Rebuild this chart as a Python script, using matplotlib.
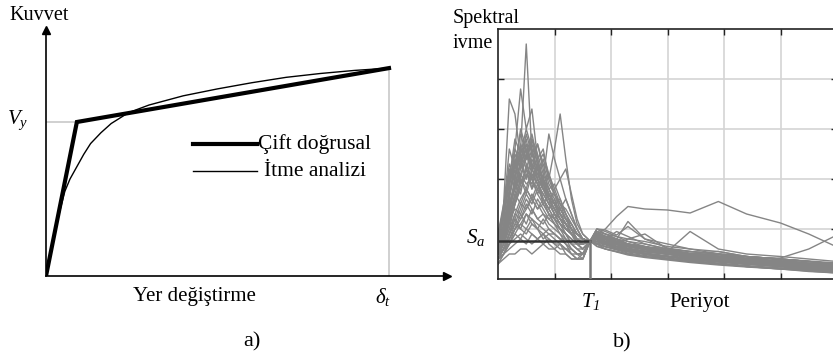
import numpy as np
import matplotlib
matplotlib.use("Agg")
import matplotlib.pyplot as plt

plt.rcParams["font.family"] = ["Liberation Serif", "DejaVu Serif"]
plt.rcParams["mathtext.fontset"] = "custom"
plt.rcParams["mathtext.rm"] = "Liberation Serif:italic"
plt.rcParams["mathtext.it"] = "Liberation Serif:italic"

# --- a) pushover curve vs bilinear idealisation (delta_t = 1, V_y = 1)
bilinear_disp = [0.0, 0.09, 1.0]
bilinear_force = [0.0, 1.0, 1.35]
push_disp = [0.0, 0.02, 0.04, 0.055, 0.07, 0.09, 0.11, 0.13, 0.16, 0.19,
             0.24, 0.30, 0.40, 0.50, 0.60, 0.70, 0.80, 0.90, 1.0]
push_force = [0.0, 0.22, 0.42, 0.55, 0.63, 0.71, 0.79, 0.86, 0.93, 0.99,
              1.06, 1.11, 1.17, 1.215, 1.255, 1.29, 1.315, 1.335, 1.35]
vy = 1.0
delta_t = 1.0

# --- b) scaled acceleration spectra
periods = [0.0, 0.1, 0.2, 0.3, 0.4, 0.5, 0.6, 0.7, 0.8, 0.9, 1.0, 1.1, 1.2,
           1.3, 1.4, 1.5, 1.63, 1.75, 1.9, 2.1, 2.3, 2.6, 3.0, 3.4, 3.9,
           4.4, 5.0, 5.5, 6.0]
T1 = 1.63
Sa = 0.76
spectra = [
    [0.6, 0.9, 1.4, 2.0, 2.6, 4.7, 2.5, 2.2, 1.8, 1.6, 1.4, 1.2, 1.1, 0.9, 0.8, 0.8, .76,
     0.9, 0.8, 0.7, 0.65, 0.6, 0.5, 0.45, 0.4, 0.35, 0.3, 0.25, 0.2],
    [0.7, 1.5, 3.6, 3.3, 2.4, 2.8, 2.2, 1.9, 1.5, 1.3, 1.2, 1.0, 0.9, 0.8, 0.7, 0.7, .76,
     0.95, 0.85, 0.8, 0.7, 0.65, 0.55, 0.5, 0.45, 0.4, 0.35, 0.3, 0.28],
    [0.5, 1.0, 1.8, 2.6, 3.8, 3.0, 3.4, 2.4, 2.0, 1.6, 1.4, 1.2, 1.0, 0.9, 0.8, 0.7, .76,
     0.85, 0.75, 0.7, 0.6, 0.55, 0.5, 0.42, 0.38, 0.33, 0.3, 0.25, 0.22],
    [0.6, 0.8, 1.2, 1.6, 2.0, 1.8, 2.2, 2.0, 2.4, 2.0, 2.6, 3.3, 2.4, 1.6, 1.1, 0.9, .76,
     1.0, 0.9, 0.8, 1.15, 0.8, 0.7, 0.6, 0.5, 0.45, 0.4, 0.35, 0.3],
    [0.5, 0.7, 1.0, 1.5, 1.9, 2.2, 1.8, 2.3, 2.0, 2.9, 2.4, 2.0, 1.6, 1.3, 1.0, 0.8, .76,
     0.9, 0.75, 0.7, 0.65, 0.6, 0.55, 0.95, 0.6, 0.5, 0.45, 0.4, 0.35],
    [0.4, 0.6, 0.9, 1.3, 1.6, 1.8, 1.6, 1.9, 1.7, 1.5, 1.8, 2.0, 2.2, 1.7, 1.2, 0.9, .76,
     0.8, 0.7, 0.6, 0.55, 0.5, 0.45, 0.4, 0.35, 0.3, 0.28, 0.22, 0.2],
    [0.5, 0.6, 0.7, 0.9, 1.1, 1.3, 1.2, 1.1, 1.0, 0.9, 0.9, 0.8, 0.8, 0.7, 0.7, 0.7, .76,
     0.9, 1.0, 1.25, 1.45, 1.4, 1.38, 1.32, 1.55, 1.3, 1.12, 0.9, 0.64],
    [0.4, 0.6, 0.9, 1.2, 1.5, 1.4, 1.7, 1.5, 1.3, 1.2, 1.1, 1.0, 0.9, 0.8, 0.7, 0.6, .76,
     0.85, 0.75, 0.65, 0.6, 0.55, 0.5, 0.45, 0.42, 0.4, 0.42, 0.6, 0.88],
    [0.8, 1.2, 2.0, 2.8, 2.5, 3.0, 2.6, 2.2, 2.0, 1.7, 1.5, 1.3, 1.1, 1.0, 0.9, 0.8, .76,
     0.8, 0.7, 0.65, 0.6, 0.55, 0.5, 0.45, 0.4, 0.35, 0.3, 0.25, 0.22],
    [0.6, 1.0, 1.6, 2.2, 2.7, 2.4, 2.8, 2.5, 2.1, 1.8, 1.9, 1.6, 1.3, 1.1, 0.9, 0.8, .76,
     0.85, 0.8, 0.75, 0.7, 0.65, 0.6, 0.5, 0.45, 0.4, 0.35, 0.3, 0.25],
    [0.5, 0.8, 1.3, 1.9, 2.3, 2.6, 2.2, 2.4, 1.9, 1.6, 1.5, 1.4, 1.2, 1.0, 0.9, 0.8, .76,
     0.75, 0.7, 0.6, 0.55, 0.5, 0.45, 0.4, 0.35, 0.3, 0.25, 0.2, 0.18],
    [0.7, 1.1, 1.5, 1.8, 2.1, 1.9, 2.0, 1.7, 1.9, 1.6, 1.4, 1.2, 1.1, 0.9, 0.8, 0.7, .76,
     0.9, 0.85, 0.8, 0.75, 0.7, 0.6, 0.55, 0.5, 0.45, 0.4, 0.35, 0.3],
    [0.4, 0.6, 0.8, 1.1, 1.4, 1.7, 1.5, 1.8, 1.6, 1.4, 1.6, 1.3, 1.2, 1.1, 0.9, 0.8, .76,
     0.7, 0.65, 0.6, 0.55, 0.5, 0.4, 0.35, 0.3, 0.25, 0.2, 0.18, 0.15],
    [0.6, 0.9, 1.2, 1.4, 1.3, 1.6, 1.4, 1.2, 1.3, 1.1, 1.0, 0.9, 0.8, 0.7, 0.6, 0.6, .76,
     0.8, 0.75, 0.7, 0.65, 0.6, 0.55, 0.5, 0.45, 0.4, 0.35, 0.3, 0.28],
    [0.4, 0.5, 0.6, 0.7, 0.8, 0.7, 0.9, 0.8, 0.7, 0.8, 0.7, 0.6, 0.6, 0.5, 0.5, 0.5, .76,
     0.75, 0.7, 0.65, 0.6, 0.5, 0.45, 0.4, 0.35, 0.3, 0.25, 0.2, 0.15],
    [0.3, 0.4, 0.5, 0.5, 0.6, 0.6, 0.5, 0.6, 0.7, 0.6, 0.6, 0.7, 0.6, 0.5, 0.4, 0.4, .76,
     0.7, 0.6, 0.55, 0.5, 0.45, 0.4, 0.35, 0.3, 0.25, 0.2, 0.15, 0.12],
    [0.5, 0.9, 1.6, 2.4, 2.0, 2.5, 2.2, 2.7, 2.3, 1.9, 1.7, 1.5, 1.4, 1.2, 1.0, 0.8, .76,
     0.8, 0.75, 0.7, 0.8, 0.9, 0.6, 0.5, 0.45, 0.4, 0.35, 0.3, 0.25],
    [0.7, 1.3, 2.2, 1.8, 2.4, 2.0, 2.5, 2.2, 1.8, 1.6, 1.3, 1.2, 1.0, 0.9, 0.8, 0.7, .76,
     0.85, 0.8, 0.95, 0.85, 0.7, 0.6, 0.55, 0.5, 0.4, 0.35, 0.3, 0.25],
    [0.6, 0.8, 1.1, 1.5, 1.9, 2.2, 2.0, 1.7, 1.5, 1.7, 1.5, 1.2, 1.0, 0.9, 0.8, 0.7, .76,
     0.8, 0.7, 0.65, 0.6, 0.55, 0.5, 0.45, 0.5, 0.45, 0.4, 0.35, 0.3],
    [0.5, 0.7, 1.0, 1.3, 1.2, 1.5, 1.3, 1.6, 1.4, 1.2, 1.3, 1.1, 1.0, 0.9, 0.7, 0.6, .76,
     0.75, 0.7, 0.6, 0.55, 0.5, 0.45, 0.42, 0.38, 0.34, 0.3, 0.26, 0.22],
    [0.4, 0.6, 0.9, 1.2, 1.0, 1.3, 1.1, 1.0, 1.2, 1.0, 0.9, 0.8, 0.7, 0.6, 0.5, 0.5, .76,
     0.7, 0.65, 0.6, 0.55, 0.5, 0.45, 0.4, 0.35, 0.3, 0.25, 0.2, 0.18],
    [0.8, 1.4, 2.6, 2.2, 3.0, 2.6, 2.3, 2.0, 1.8, 1.5, 1.3, 1.1, 1.0, 0.9, 0.8, 0.7, .76,
     0.9, 0.8, 0.75, 0.7, 0.6, 0.55, 0.5, 0.45, 0.4, 0.35, 0.3, 0.26],
    [0.5, 0.7, 1.2, 1.7, 2.1, 2.4, 2.7, 2.3, 2.5, 2.1, 1.7, 1.4, 1.2, 1.0, 0.9, 0.8, .76,
     0.85, 0.75, 0.7, 0.65, 0.6, 0.5, 0.48, 0.42, 0.38, 0.32, 0.28, 0.24],
    [0.3, 0.5, 0.8, 1.0, 1.1, 1.0, 1.2, 1.0, 0.9, 1.0, 0.9, 0.8, 0.7, 0.6, 0.5, 0.4, .76,
     0.65, 0.6, 0.55, 0.5, 0.45, 0.4, 0.35, 0.3, 0.25, 0.22, 0.18, 0.14],
    [0.6, 0.8, 1.2, 1.6, 2.0, 1.7, 2.1, 1.9, 1.6, 1.4, 1.2, 1.4, 1.6, 1.3, 1.0, 0.8, .76,
     0.95, 0.9, 0.85, 0.8, 0.75, 0.65, 0.6, 0.55, 0.45, 0.4, 0.35, 0.3],
    [0.9, 1.5, 2.0, 2.3, 1.9, 2.2, 1.8, 2.0, 1.6, 1.4, 1.2, 1.1, 0.9, 0.8, 0.7, 0.7, .76,
     0.8, 0.72, 0.65, 0.6, 0.55, 0.5, 0.5, 0.55, 0.45, 0.4, 0.36, 0.32],
    [0.4, 0.5, 0.7, 0.9, 0.8, 1.0, 0.9, 0.8, 0.9, 0.8, 0.7, 0.7, 0.6, 0.6, 0.5, 0.5, .76,
     0.72, 0.68, 0.62, 0.58, 0.52, 0.46, 0.42, 0.38, 0.33, 0.28, 0.24, 0.2],
    [0.5, 0.6, 0.8, 1.0, 1.3, 1.1, 1.4, 1.2, 1.1, 1.3, 1.1, 1.0, 0.9, 0.7, 0.6, 0.5, .76,
     0.78, 0.72, 0.68, 0.62, 0.56, 0.5, 0.44, 0.4, 0.36, 0.32, 0.28, 0.24],
    [0.6, 1.0, 1.7, 2.3, 2.9, 2.5, 2.9, 2.4, 2.6, 2.0, 1.7, 1.5, 1.3, 1.1, 0.9, 0.8, .76,
     0.95, 0.9, 0.8, 0.7, 0.62, 0.55, 0.5, 0.44, 0.38, 0.33, 0.28, 0.24],
    [0.5, 0.8, 1.4, 2.0, 2.5, 2.2, 2.6, 2.0, 1.8, 1.6, 1.7, 1.4, 1.2, 1.0, 0.8, 0.7, .76,
     1.0, 0.95, 0.85, 0.75, 0.65, 0.55, 0.48, 0.42, 0.36, 0.3, 0.26, 0.22],
    [0.7, 1.2, 1.9, 2.5, 2.2, 2.7, 2.3, 2.1, 1.9, 2.1, 1.8, 1.5, 1.2, 1.0, 0.8, 0.7, .76,
     0.9, 0.85, 0.75, 0.68, 0.6, 0.52, 0.46, 0.4, 0.35, 0.3, 0.26, 0.22],
    [0.4, 0.7, 1.1, 1.5, 1.8, 2.1, 1.9, 2.2, 2.0, 1.8, 1.5, 1.6, 1.3, 1.0, 0.7, 0.6, .76,
     0.85, 0.8, 0.72, 0.66, 0.6, 0.54, 0.48, 0.42, 0.36, 0.3, 0.25, 0.2],
    [0.6, 0.9, 1.3, 1.7, 1.5, 1.8, 1.6, 1.4, 1.6, 1.3, 1.2, 1.0, 0.8, 0.6, 0.5, 0.5, .76,
     0.8, 0.72, 0.65, 0.58, 0.52, 0.46, 0.4, 0.35, 0.3, 0.26, 0.22, 0.18],
    [0.5, 0.6, 0.9, 1.1, 1.0, 0.9, 1.1, 1.0, 0.8, 0.9, 0.8, 0.7, 0.5, 0.4, 0.4, 0.5, .76,
     0.7, 0.64, 0.58, 0.52, 0.47, 0.42, 0.37, 0.32, 0.27, 0.22, 0.18, 0.14],
    [0.8, 1.3, 2.1, 2.6, 2.3, 2.9, 2.5, 2.7, 2.2, 1.8, 1.6, 1.3, 1.1, 0.9, 0.8, 0.7, .76,
     1.0, 0.98, 0.88, 1.05, 0.8, 0.62, 0.55, 0.5, 0.44, 0.38, 0.32, 0.28],
    [0.6, 1.1, 1.7, 2.1, 2.6, 2.3, 2.0, 2.3, 1.9, 1.6, 1.4, 1.2, 1.1, 0.9, 0.7, 0.6, .76,
     0.92, 0.86, 0.78, 0.7, 0.64, 0.56, 0.5, 0.45, 0.4, 0.34, 0.3, 0.26],
    [0.4, 0.5, 0.7, 1.0, 1.2, 1.4, 1.6, 1.4, 1.5, 1.3, 1.1, 0.9, 0.7, 0.5, 0.4, 0.4, .76,
     0.75, 0.7, 0.64, 0.57, 0.5, 0.44, 0.38, 0.34, 0.3, 0.25, 0.2, 0.16],
    [0.7, 1.0, 1.5, 1.9, 2.3, 2.0, 2.4, 2.1, 1.8, 1.7, 1.5, 1.3, 1.1, 0.9, 0.8, 0.7, .76,
     0.88, 0.82, 0.74, 0.68, 0.62, 0.56, 0.5, 0.46, 0.4, 0.36, 0.32, 0.28],
    [0.5, 0.9, 1.5, 1.9, 1.7, 2.3, 2.0, 1.8, 2.0, 1.7, 1.5, 1.3, 1.1, 1.0, 0.9, 0.8, .76,
     0.86, 0.8, 0.72, 0.66, 0.6, 0.52, 0.46, 0.4, 0.34, 0.28, 0.22, 0.18],
    [0.6, 0.9, 1.4, 1.8, 2.2, 2.5, 2.1, 1.9, 1.7, 1.5, 1.3, 1.1, 0.9, 0.7, 0.6, 0.5, .76,
     0.82, 0.78, 0.7, 0.64, 0.58, 0.5, 0.44, 0.38, 0.33, 0.28, 0.24, 0.2],
    [0.3, 0.5, 0.7, 0.8, 0.9, 0.8, 0.7, 0.8, 0.9, 0.7, 0.6, 0.5, 0.5, 0.4, 0.4, 0.4, .76,
     0.66, 0.6, 0.54, 0.48, 0.43, 0.38, 0.33, 0.28, 0.24, 0.2, 0.16, 0.12],
    [0.9, 1.4, 2.3, 2.0, 2.6, 2.4, 2.8, 2.3, 2.0, 1.7, 1.5, 1.3, 1.1, 1.0, 0.9, 0.8, .76,
     0.9, 0.84, 0.76, 0.7, 0.64, 0.58, 0.52, 0.48, 0.42, 0.36, 0.3, 0.26],
]

W, H = 833, 360
fig = plt.figure(figsize=(W / 100, H / 100), dpi=100)


def px_axes(x0, y0, x1, y1):
    # axes from pixel box (top-left origin)
    return fig.add_axes([x0 / W, 1 - y1 / H, (x1 - x0) / W, (y1 - y0) / H])


def px_text(x, y, s, **kw):
    fig.text(x / W, 1 - y / H, s, **kw)


# ---------------- a)
ax1 = px_axes(46, 30, 447, 276)
ax1.set_xlim(0, (447 - 46) / 343)
ax1.set_ylim(0, (276 - 30) / 154)
for s in ["top", "right"]:
    ax1.spines[s].set_visible(False)
for s in ["left", "bottom"]:
    ax1.spines[s].set_linewidth(1.2)
ax1.set_xticks([])
ax1.set_yticks([])
ax1.patch.set_alpha(0)
ax1.plot(0, 1, "^k", ms=6, transform=ax1.transAxes, clip_on=False)
ax1.plot(1, 0, ">k", ms=6, transform=ax1.transAxes, clip_on=False)

ax1.plot([0, bilinear_disp[1]], [vy, vy], color="#c8c8c8", lw=1.2, zorder=1)
ax1.plot([delta_t, delta_t], [0, bilinear_force[-1]], color="#c8c8c8", lw=1.2, zorder=1)
ax1.plot(bilinear_disp, bilinear_force, color="black", lw=3, zorder=3,
         solid_joinstyle="miter")
ax1.plot(push_disp, push_force, color="black", lw=1, zorder=4)

# legend drawn by hand
ax1.plot([(193 - 46) / 343, (257 - 46) / 343], [(276 - 144) / 154] * 2,
         color="black", lw=3)
ax1.plot([(193 - 46) / 343, (257 - 46) / 343], [(276 - 171) / 154] * 2,
         color="black", lw=1)
px_text(315, 144, "Çift doğrusal", ha="center", va="center", fontsize=15.5)
px_text(315, 171, "İtme analizi", ha="center", va="center", fontsize=15.5)

px_text(9, 15, "Kuvvet", ha="left", va="center", fontsize=14.5)
px_text(18, 120, r"$V_y$", ha="center", va="center", fontsize=15)
px_text(194, 297, "Yer değiştirme", ha="center", va="center", fontsize=15)
px_text(383, 297, r"$\delta_t$", ha="center", va="center", fontsize=15)
px_text(252, 342, "a)", ha="center", va="center", fontsize=16)

# ---------------- b)
ax2 = px_axes(498, 29, 498 + 6 * 56.5, 279)
ax2.set_xlim(0, 6)
ax2.set_ylim(0, 5)
ax2.set_xticks([1, 2, 3, 4, 5])
ax2.set_yticks([1, 2, 3, 4])
ax2.tick_params(direction="in", length=4, width=1, top=True, right=True,
                labelbottom=False, labelleft=False, color="#222222")
ax2.grid(True, color="#d4d4d4", lw=1.2)
ax2.set_axisbelow(True)
for s in ax2.spines.values():
    s.set_linewidth(1.2)
    s.set_color("#222222")

for sp in spectra:
    ax2.plot(periods, sp, color="#858585", lw=1.0, zorder=2)

ax2.plot([0, T1], [Sa, Sa], color="#333333", lw=1.8, zorder=5)
ax2.plot([T1, T1], [0, Sa], color="#777777", lw=1.8, zorder=5)

px_text(453, 18, "Spektral", ha="left", va="center", fontsize=14.5)
px_text(453, 43, "ivme", ha="left", va="center", fontsize=14.5)
px_text(476, 237, r"$S_a$", ha="center", va="center", fontsize=15)
px_text(591, 302, r"$T_1$", ha="center", va="center", fontsize=15)
px_text(700, 302, "Periyot", ha="center", va="center", fontsize=15)
px_text(622, 343, "b)", ha="center", va="center", fontsize=16)

fig.savefig("out.png", dpi=100)
